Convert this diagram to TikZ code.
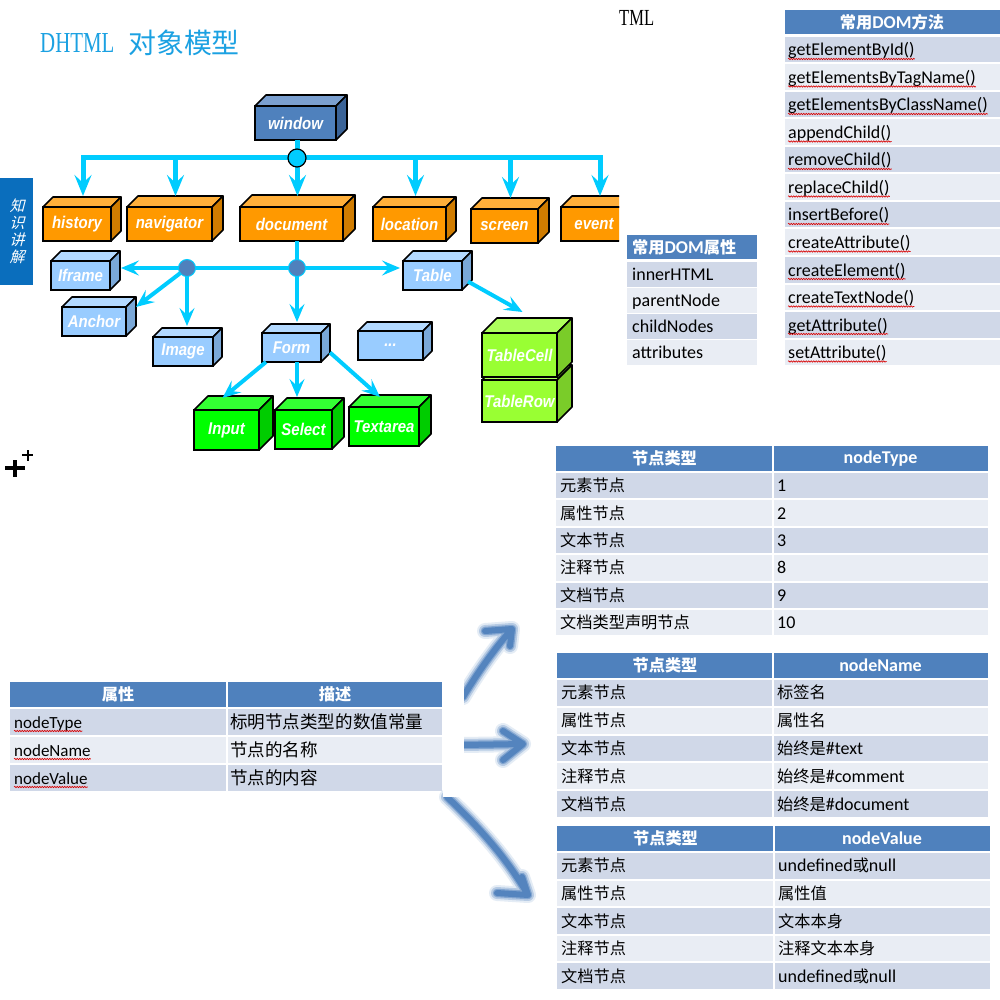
\documentclass[tikz,border=0pt]{standalone}
\usepackage{fontspec}
\setmainfont{Carlito}
\newfontfamily\cjk[Scale=0.9]{Noto Sans CJK SC}
\newfontfamily\cjkslant[FakeSlant=0.25]{Noto Sans CJK SC}
\newfontfamily\boxfont[FakeStretch=0.88]{Liberation Sans}
\newfontfamily\titlefont[FakeStretch=0.72]{Liberation Serif}
\usetikzlibrary{arrows.meta}
\usetikzlibrary{calc}
\usetikzlibrary{decorations.pathmorphing}

\definecolor{flow}{HTML}{00CCFF}
\definecolor{titleblue}{HTML}{1BA1E2}
\definecolor{tabblue}{HTML}{0A6EBD}
\definecolor{headfill}{HTML}{4F81BD}
\definecolor{rowdark}{HTML}{D0D8E8}
\definecolor{rowlight}{HTML}{E9EDF4}
\definecolor{winF}{HTML}{4F81BD}
\definecolor{winT}{HTML}{7BA0D0}
\definecolor{winS}{HTML}{3B6498}
\definecolor{orgF}{HTML}{FF9900}
\definecolor{orgT}{HTML}{FFAF3A}
\definecolor{orgS}{HTML}{D07C00}
\definecolor{lblF}{HTML}{99CCFF}
\definecolor{lblT}{HTML}{B3D9FF}
\definecolor{lblS}{HTML}{7AA8D8}
\definecolor{grnF}{HTML}{00FF00}
\definecolor{grnT}{HTML}{33FF33}
\definecolor{grnS}{HTML}{00CC00}
\definecolor{limF}{HTML}{99FF33}
\definecolor{limT}{HTML}{ADFF5C}
\definecolor{limS}{HTML}{7ACC29}

% front face is the node, top and side faces drawn after it
\newcommand{\boxcube}[8]{%
  \node[boxfront, fill=#2F, minimum width={#5-#3}, minimum height={#6-#4}] (#1) at ({(#3+#5)/2},{(#4+#6)/2}) {#8};
  \draw[cubeedge, fill=#2T] (#1.north west) -- ++(#7,-#7) -- ++({#5-#3},0) -- (#1.north east) -- cycle;
  \draw[cubeedge, fill=#2S] (#1.north east) -- ++(#7,-#7) -- ++(0,{#6-#4}) -- (#1.south east) -- cycle;
}

% two column table: name, left, split, right, top, row step, value head, rows
\newcommand{\kindtable}[8]{%
  \fill[headfill] (#2,#5) rectangle (#4,#5+24.5);
  \draw[white, line width=1.5pt] (#3,#5) -- (#3,#5+24.5);
  \node[headtext] (#1HeadA) at ({(#2+#3)/2},#5+12.5) {\cjk 节点类型};
  \node[headtext] (#1HeadB) at ({(#3+#4)/2},#5+12.5) {#7};
  \foreach \a/\b [count=\i] in {#8} {
    \pgfmathsetmacro\rowy{#5+27+(\i-1)*#6}
    \ifodd\i\def\rowcol{rowdark}\else\def\rowcol{rowlight}\fi
    \fill[\rowcol] (#2,\rowy) rectangle (#4,\rowy+#6-2);
    \draw[white, line width=1.5pt] (#3,\rowy) -- (#3,\rowy+#6-2);
    \node[celltext] (#1A\i) at ({#2+4},{\rowy+#6/2+5}) {\cjk \a};
    \node[celltext] (#1B\i) at ({#3+4},{\rowy+#6/2+5}) {\b};
  }
}

\begin{document}
\begin{tikzpicture}[x=1pt, y=-1pt,
  boxfront/.style={draw=black, line width=1.6pt, inner sep=0, outer sep=0, text=white,
    font=\boxfont\bfseries\itshape\fontsize{17}{17}\selectfont},
  cubeedge/.style={draw=black, line width=1.6pt, line join=round},
  conn/.style={draw=flow, line width=5pt},
  flowarrow/.style={conn, -{Stealth[length=21pt, width=17pt, inset=8pt]}},
  conn2/.style={draw=flow, line width=4pt},
  flowarrow2/.style={conn2, -{Stealth[length=18pt, width=15pt, inset=7pt]}},
  hubdot/.style={circle, fill=flow, draw=black, line width=1.2pt, minimum size=18pt, inner sep=0},
  forkdot/.style={circle, fill=winF, draw=flow, line width=1pt, minimum size=17pt, inner sep=0},
  headtext/.style={text=white, inner sep=0, font=\bfseries\fontsize{18}{18}\selectfont},
  celltext/.style={anchor=base west, inner sep=0, font=\fontsize{18}{18}\selectfont},
  squig/.style={draw=red!85!black, line width=0.6pt, decorate,
    decoration={snake, amplitude=0.7pt, segment length=2.5pt}},
  bigflow/.style={draw=headfill, line cap=round, line join=round}]
\useasboundingbox[fill=white] (0,0) rectangle (1000,1000);

% title and side tab
\node[anchor=base west, inner sep=0, text=titleblue, font=\titlefont\fontsize{29}{29}\selectfont] (titleEn) at (40,53) {DHTML};
\node[anchor=base west, inner sep=0, text=titleblue, font=\cjk\fontsize{31}{31}\selectfont] (titleZh) at (128,54) {对象模型};
\node[anchor=base west, inner sep=0, font=\titlefont\fontsize{23}{23}\selectfont] (tml) at (619,26) {TML};
\fill[tabblue] (0,178) rectangle (33,285);
\foreach \c [count=\i] in {知,识,讲,解}
  \node[text=white, inner sep=0, font=\cjkslant\fontsize{15}{15}\selectfont] (tab\i) at (17,{189+\i*17}) {\c};
\draw[line width=4pt] (5,468) -- (25,468) (15,460) -- (15,477);
\draw[line width=2.5pt] (22,455) -- (33,455) (28,450) -- (28,461);

% object tree
\boxcube{window}{win}{255}{106}{336}{140}{11}{window}
\boxcube{history}{org}{43}{207}{111}{241}{10}{history}
\boxcube{navigator}{org}{127}{207}{212}{241}{11}{navigator}
\boxcube{document}{org}{240}{207}{343}{241}{12}{document}
\boxcube{location}{org}{373}{207}{446}{241}{10}{location}
\boxcube{screen}{org}{471}{209}{538}{243}{11}{screen}
\begin{scope}
\clip (0,0) rectangle (619,1000);
\boxcube{event}{org}{561}{207}{627}{241}{11}{event}
\end{scope}
\boxcube{Iframe}{lbl}{51}{261}{110}{290}{10}{Iframe}
\boxcube{Anchor}{lbl}{62}{307}{126}{336}{10}{Anchor}
\boxcube{Image}{lbl}{153}{337}{213}{366}{9}{Image}
\boxcube{Form}{lbl}{262}{333}{321}{362}{9}{Form}
\boxcube{more}{lbl}{358}{331}{423}{360}{9}{...}
\boxcube{Table}{lbl}{403}{261}{462}{290}{10}{Table}
\boxcube{TableRow}{lim}{482}{380}{557}{422}{15}{TableRow}
\boxcube{TableCell}{lim}{482}{333}{557}{377}{15}{TableCell}
\boxcube{Input}{grn}{194}{410}{259}{450}{14}{Input}
\boxcube{Select}{grn}{275}{410}{332}{449}{12}{Select}
\boxcube{Textarea}{grn}{349}{407}{419}{446}{12}{Textarea}

\coordinate (hub) at (297,158);
\draw[conn] (window.south -| hub) -- (hub);
\foreach \n in {history,navigator,document,location,screen,event}
  \draw[flowarrow] (hub) -| ($(\n.north)+(6,-11)$);
\node[hubdot] (hubdot) at (hub) {};

\coordinate (split) at (297,268);
\coordinate (fork) at (187,268);
\draw[conn2] (split |- document.south) -- (split);
\draw[conn2] (split) -- (fork);
\draw[flowarrow2] (fork) -- ($(fork -| Iframe.east)+(11,0)$);
\draw[flowarrow2] (split) -- ($(split -| Table.west)+(-3,0)$);
\draw[flowarrow2] (split) -- ($(split |- Form.north)+(0,-11)$);
\draw[flowarrow2] (fork) -- ($(Anchor.north east)+(10,0)$);
\draw[flowarrow2] (fork) -- ($(fork |- Image.north)+(0,-11)$);
\draw[flowarrow2] ($(Table.east)+(6,6)$) -- ($(TableCell.north)+(3,-21)$);
\draw[flowarrow2] ($(Form.south west)+(4,0)$) -- ($(Input.north)+(-4,-12)$);
\draw[flowarrow2] (split |- Form.south) -- ($(split |- Select.north)+(0,-13)$);
\draw[flowarrow2] ($(Form.east)+(9,5)$) -- ($(Textarea.north)+(-4,-10)$);
\node[forkdot] (splitdot) at (split) {};
\node[forkdot] (forkdot) at (fork) {};

% DOM methods
\fill[headfill] (785,10) rectangle (1000,34);
\node[headtext] (methodsHead) at (892,22) {{\cjk 常用}DOM{\cjk 方法}};
\foreach \m [count=\i] in {getElementById(), getElementsByTagName(), getElementsByClassName(), appendChild(), removeChild(), replaceChild(), insertBefore(), createAttribute(), createElement(), createTextNode(), getAttribute(), setAttribute()} {
  \pgfmathsetmacro\rowy{37+(\i-1)*27.5}
  \ifodd\i\def\rowcol{rowdark}\else\def\rowcol{rowlight}\fi
  \fill[\rowcol] (785,\rowy) rectangle (1000,\rowy+25.5);
  \node[celltext] (method\i) at (788,\rowy+19) {\m};
  \draw[squig] ($(method\i.base west)+(0,3)$) -- ($(method\i.base east)+(0,3)$);
}

% DOM properties
\fill[headfill] (627,235) rectangle (757,259);
\node[headtext, anchor=west] (propsHead) at (632,247) {{\cjk 常用}DOM{\cjk 属性}};
\foreach \p [count=\i] in {innerHTML, parentNode, childNodes, attributes} {
  \pgfmathsetmacro\rowy{262+(\i-1)*26}
  \ifodd\i\def\rowcol{rowdark}\else\def\rowcol{rowlight}\fi
  \fill[\rowcol] (627,\rowy) rectangle (757,\rowy+24.5);
  \node[celltext] (prop\i) at (632,\rowy+18) {\p};
}

% node attributes
\fill[headfill] (10,682) rectangle (442,707);
\draw[white, line width=1.5pt] (227,682) -- (227,707);
\node[headtext] (attrHead) at (118,694.5) {\cjk 属性};
\node[headtext] (descHead) at (335,694.5) {\cjk 描述};
\foreach \attr/\desc [count=\i] in {nodeType/标明节点类型的数值常量, nodeName/节点的名称, nodeValue/节点的内容} {
  \pgfmathsetmacro\rowy{709+(\i-1)*28}
  \ifodd\i\def\rowcol{rowdark}\else\def\rowcol{rowlight}\fi
  \fill[\rowcol] (10,\rowy) rectangle (442,\rowy+26);
  \draw[white, line width=1.5pt] (227,\rowy) -- (227,\rowy+26);
  \node[celltext, font=\fontsize{17}{17}\selectfont] (attr\i) at (14,\rowy+19) {\attr};
  \node[celltext, font=\fontsize{19.5}{19.5}\selectfont] (desc\i) at (230,\rowy+19) {\cjk \desc};
  \draw[squig] ($(attr\i.base west)+(0,3)$) -- ($(attr\i.base east)+(0,3)$);
}

% node kinds
\kindtable{type}{556}{773}{988}{446}{27.4}{nodeType}{元素节点/1, 属性节点/2, 文本节点/3, 注释节点/8, 文档节点/9, 文档类型声明节点/10}
\kindtable{name}{557}{773}{988}{653}{27.8}{nodeName}{元素节点/{\cjk 标签名}, 属性节点/{\cjk 属性名}, 文本节点/{\cjk 始终是}\#text, 注释节点/{\cjk 始终是}\#comment, 文档节点/{\cjk 始终是}\#document}
\kindtable{value}{557}{774}{990}{826}{27.6}{nodeValue}{元素节点/undefined{\cjk 或}null, 属性节点/{\cjk 属性值}, 文本节点/{\cjk 文本本身}, 注释节点/{\cjk 注释文本本身}, 文档节点/undefined{\cjk 或}null}

% big arrows from the attribute table
\coordinate (upS) at (463,697);
\coordinate (upT) at (512,629);
\coordinate (midS) at (463,745);
\coordinate (midT) at (523,744);
\coordinate (lowS) at (447,797);
\coordinate (lowT) at (528,895);
\foreach \w/\o in {16/0.15, 12/0.3, 8.5/0.5, 6/0.9} {
  \draw[bigflow, line width=\w pt, opacity=\o] (upS) .. controls (478,672) and (495,648) .. (upT) (485,631) -- (upT) -- (510,646);
  \draw[bigflow, line width=\w pt, opacity=\o] (midS) -- (midT) (503,731) -- (midT) -- (503,760);
  \draw[bigflow, line width=\w pt, opacity=\o] (lowS) .. controls (480,828) and (508,860) .. (lowT) (522,877) -- (lowT) -- (497,893);
}
\fill[white] (443,640) rectangle (464,797);
\end{tikzpicture}
\end{document}
